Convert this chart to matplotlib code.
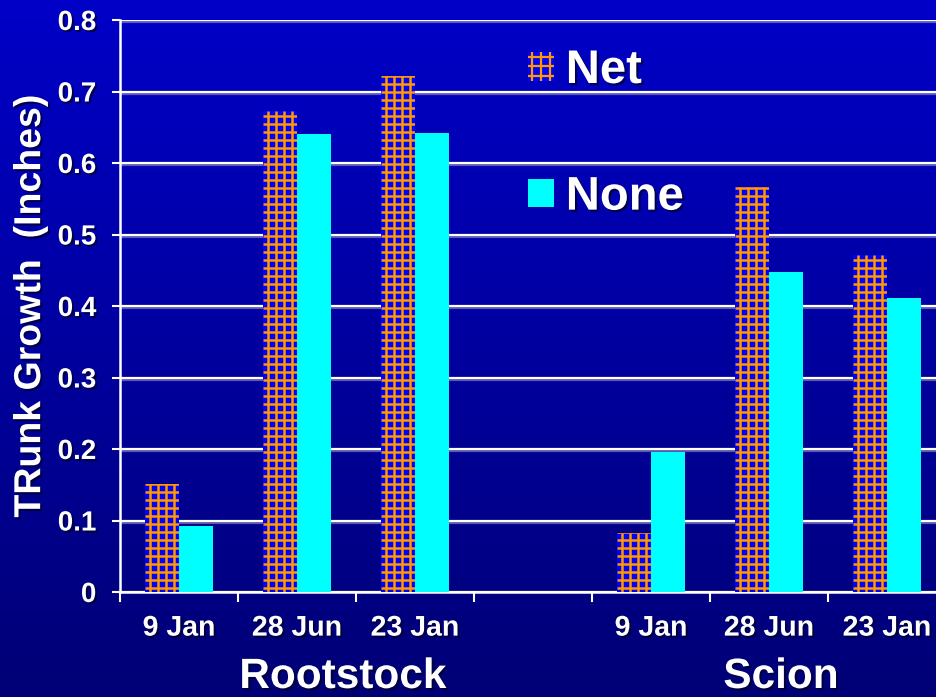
import numpy as np
import matplotlib.pyplot as plt
import matplotlib.patheffects as pe
from matplotlib.patches import Patch, Rectangle
from matplotlib.lines import Line2D
from matplotlib.legend_handler import HandlerBase

# trunk growth by sampling date, rootstock vs scion
dates = ["9 Jan", "28 Jun", "23 Jan"]
groups = ["Rootstock", "Scion"]
net_root = [0.151, 0.673, 0.722]
none_root = [0.093, 0.640, 0.642]
net_scion = [0.082, 0.567, 0.472]
none_scion = [0.196, 0.448, 0.411]
yticks = [0, 0.1, 0.2, 0.3, 0.4, 0.5, 0.6, 0.7, 0.8]

BLUE = '#0000FF'
ORANGE = '#FF9900'
CYAN = '#00FFFF'

plt.rcParams['font.family'] = ['Liberation Sans', 'DejaVu Sans']
plt.rcParams['font.weight'] = 'bold'

text_fx = [pe.SimplePatchShadow(offset=(1.5, -1.5), shadow_rgbFace='#000030', alpha=0.8), pe.Normal()]


class GridHandler(HandlerBase):
    """Legend key: blue square with an orange 3x3 lattice."""
    def create_artists(self, legend, orig_handle, xdescent, ydescent,
                       width, height, fontsize, trans):
        x0, y0 = -xdescent, -ydescent
        arts = [Rectangle((x0, y0), width, height, facecolor=BLUE, lw=0, transform=trans)]
        for f in (0.17, 0.5, 0.83):
            arts.append(Line2D([x0 + f * width] * 2, [y0, y0 + height], color=ORANGE,
                               lw=1.6, solid_capstyle='butt', transform=trans))
            arts.append(Line2D([x0, x0 + width], [y0 + f * height] * 2, color=ORANGE,
                               lw=1.6, solid_capstyle='butt', transform=trans))
        return arts


fig = plt.figure(figsize=[9.36, 6.97], dpi=100)

# vertical blue gradient behind everything
bg = fig.add_axes([0, 0, 1, 1], zorder=-10)
grad = np.linspace(0, 1, 256).reshape(-1, 1)
top = np.array([0, 0, 200]) / 255
bottom = np.array([0, 0, 118]) / 255
img = top[None, None, :] * (1 - grad[:, :, None]) + bottom[None, None, :] * grad[:, :, None]
bg.imshow(img, aspect='auto', extent=[0, 1, 0, 1])
bg.axis('off')

ax = fig.add_axes([120 / 936, 105 / 697, 826 / 936, 572 / 697])
ax.patch.set_alpha(0)

# three dates per group, an empty slot between the groups
slots = [0, 1, 2, 4, 5, 6]
centers = np.array(slots) + 0.5
net_vals = net_root + net_scion
none_vals = none_root + none_scion
w = 0.284

net_bars = ax.bar(centers - w / 2, net_vals, w, color=BLUE, linewidth=0, zorder=3)
ax.bar(centers + w / 2, none_vals, w, color=CYAN, linewidth=0, zorder=3)

ax.set_xlim(0, 7)
ax.set_ylim(0, 0.8)

# orange lattice over the Net bars, ~8 px cells, clipped to each bar
dx = 8 / 118
dy = 8 / 715
for rect in net_bars:
    x0, h = rect.get_x(), rect.get_height()
    xs = x0 + 4.3 / 118 + dx * np.arange(4)
    ys = 4 / 715 + dy * np.arange(int(h / dy) + 1)
    vl = ax.vlines(xs, 0, h, color=ORANGE, lw=1.8, zorder=4)
    hl = ax.hlines(ys, x0, x0 + w, color=ORANGE, lw=1.8, zorder=4)
    vl.set_clip_path(rect)
    hl.set_clip_path(rect)

ax.set_yticks(yticks)
ax.set_yticklabels([f"{t:g}" for t in yticks])
ax.yaxis.grid(True, color='white', linewidth=1.6, zorder=1)
for gl in ax.yaxis.get_gridlines():
    gl.set_path_effects([pe.SimpleLineShadow(offset=(0, -1.5), shadow_color='#8080c0', alpha=0.7), pe.Normal()])

ax.set_xticks(np.arange(0, 8))
ax.set_xticklabels([])
ax.set_xticks(centers, minor=True)
ax.set_xticklabels(dates + dates, minor=True)
ax.tick_params(axis='x', which='minor', length=0, pad=17, labelsize=20.5, colors='white')
ax.tick_params(axis='x', which='major', length=7, width=1.5, color='white')
ax.tick_params(axis='y', length=6, width=1.5, color='white', labelsize=20, labelcolor='white', pad=11)
for lbl in ax.get_xticklabels(minor=True) + ax.get_yticklabels():
    lbl.set_path_effects(text_fx)

for side in ['top', 'right']:
    ax.spines[side].set_visible(False)
for side in ['left', 'bottom']:
    ax.spines[side].set_color('white')
    ax.spines[side].set_linewidth(1.8)

ax.set_ylabel("TRunk Growth  (Inches)", fontsize=27, fontweight='bold', color='white',
              path_effects=text_fx)
ax.yaxis.set_label_coords(-0.087, 0.5)

# group names under the date labels
fig.text(343 / 936, 1 - 677 / 697, groups[0], fontsize=30.5, color='white',
         ha='center', va='center', path_effects=text_fx)
fig.text(781 / 936, 1 - 677 / 697, groups[1], fontsize=30.5, color='white',
         ha='center', va='center', path_effects=text_fx)

handles = [Patch(facecolor=BLUE, label='Net'), Patch(facecolor=CYAN, linewidth=0, label='None')]
leg = fig.legend(handles=handles, handler_map={handles[0]: GridHandler()},
                 loc='upper left', bbox_to_anchor=(528 / 936, 1 - 49 / 697),
                 frameon=False, fontsize=34, handlelength=0.55, handleheight=0.55,
                 handletextpad=0.25, labelspacing=1.75, borderpad=0, borderaxespad=0)
for t in leg.get_texts():
    t.set_color('white')
    t.set_path_effects(text_fx)

fig.savefig("out.png", dpi=100)
